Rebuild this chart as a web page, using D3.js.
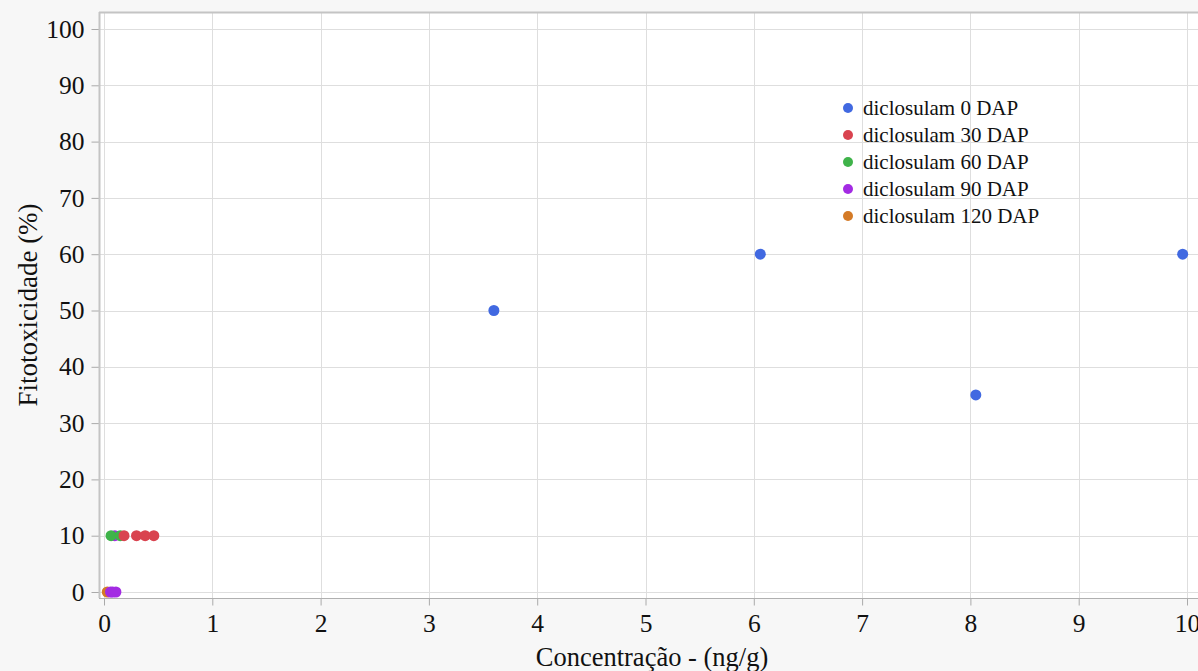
<!DOCTYPE html>
<html>
<head>
<meta charset="utf-8">
<script src="https://cdn.jsdelivr.net/npm/d3@7"></script>
<style>
  html, body { margin: 0; padding: 0; background: #f7f7f7; }
  svg { display: block; }
  text { font-family: "Liberation Serif", "Times New Roman", serif; fill: #111; }
</style>
</head>
<body>
<svg id="chart" width="1198" height="671"></svg>
<script>
// Series: concentration (ng/g) and phytotoxicity (%) per evaluation date
const seriesNames = ["diclosulam 0 DAP", "diclosulam 30 DAP", "diclosulam 60 DAP", "diclosulam 90 DAP", "diclosulam 120 DAP"];
const seriesColors = ["#4169e1", "#d9434f", "#3fb34a", "#a32be3", "#d47a26"];

const conc0 = [3.60, 6.06, 8.05, 9.96];
const fito0 = [50, 60, 35, 60];

const conc30 = [0.185, 0.30, 0.38, 0.46];
const fito30 = [10, 10, 10, 10];

const conc60 = [0.065, 0.15];
const fito60 = [10, 10];

const conc90 = [0.10, 0.06, 0.08, 0.11];
const fito90 = [10, 0, 0, 0];

const conc120 = [0.03];
const fito120 = [0];

const xTicks = [0, 1, 2, 3, 4, 5, 6, 7, 8, 9, 10];
const yTicks = [0, 10, 20, 30, 40, 50, 60, 70, 80, 90, 100];

const series = [
  { name: seriesNames[0], color: seriesColors[0], x: conc0, y: fito0 },
  { name: seriesNames[1], color: seriesColors[1], x: conc30, y: fito30 },
  { name: seriesNames[2], color: seriesColors[2], x: conc60, y: fito60 },
  { name: seriesNames[3], color: seriesColors[3], x: conc90, y: fito90 },
  { name: seriesNames[4], color: seriesColors[4], x: conc120, y: fito120 }
];

const svg = d3.select("#chart");
const plot = { left: 99, top: 12, right: 1198, bottom: 598 };

const x = d3.scaleLinear().domain([0, 10]).range([104, 1187]);
const y = d3.scaleLinear().domain([0, 100]).range([592, 29]);

// plot background
svg.append("rect")
  .attr("x", plot.left).attr("y", plot.top)
  .attr("width", plot.right - plot.left).attr("height", plot.bottom - plot.top)
  .attr("fill", "#ffffff");

// grid
const grid = svg.append("g").attr("stroke", "#dedede").attr("stroke-width", 1);
grid.selectAll("line.v").data(xTicks).join("line")
  .attr("x1", d => Math.round(x(d)) + 0.5).attr("x2", d => Math.round(x(d)) + 0.5)
  .attr("y1", plot.top).attr("y2", plot.bottom);
grid.selectAll("line.h").data(yTicks).join("line")
  .attr("y1", d => Math.round(y(d)) + 0.5).attr("y2", d => Math.round(y(d)) + 0.5)
  .attr("x1", plot.left).attr("x2", plot.right);

// frame line along the top
svg.append("line").attr("x1", plot.left).attr("x2", plot.right)
  .attr("y1", plot.top + 0.5).attr("y2", plot.top + 0.5)
  .attr("stroke", "#c4c4c4").attr("stroke-width", 2);

// axes
const xAxis = svg.append("g").attr("transform", `translate(0,${plot.bottom + 0.5})`)
  .call(d3.axisBottom(x).tickValues(xTicks).tickSize(7).tickSizeOuter(0).tickPadding(8));
const yAxis = svg.append("g").attr("transform", `translate(${plot.left + 0.5},0)`)
  .call(d3.axisLeft(y).tickValues(yTicks).tickSize(8).tickSizeOuter(0).tickPadding(7));

[xAxis, yAxis].forEach(a => {
  a.select(".domain").remove();
  a.selectAll(".tick line").attr("stroke", "#aaaaaa");
  a.selectAll(".tick text")
    .attr("font-family", "Liberation Serif, Times New Roman, serif")
    .attr("font-size", 25.5).attr("fill", "#111");
});
svg.append("line").attr("x1", plot.left).attr("x2", plot.right)
  .attr("y1", plot.bottom + 0.5).attr("y2", plot.bottom + 0.5)
  .attr("stroke", "#b0b0b0");
svg.append("line").attr("x1", plot.left + 0.5).attr("x2", plot.left + 0.5)
  .attr("y1", plot.top).attr("y2", plot.bottom)
  .attr("stroke", "#c4c4c4").attr("stroke-width", 2);

// axis titles
svg.append("text")
  .attr("x", 652).attr("y", 666)
  .attr("text-anchor", "middle").attr("font-size", 26.5)
  .text("Concentração - (ng/g)");
svg.append("text")
  .attr("transform", "translate(37,305) rotate(-90)")
  .attr("text-anchor", "middle").attr("font-size", 27)
  .text("Fitotoxicidade (%)");

// points (drawn in reverse so earlier series sit on top)
const pts = svg.append("g");
series.slice().reverse().forEach(s => {
  pts.selectAll(null).data(s.x.map((v, i) => [v, s.y[i]])).join("circle")
    .attr("cx", d => x(d[0])).attr("cy", d => y(d[1]))
    .attr("r", 5.5).attr("fill", s.color);
});

// legend
const legend = svg.append("g").attr("transform", "translate(848,108)");
series.forEach((s, i) => {
  const g = legend.append("g").attr("transform", `translate(0,${i * 27})`);
  g.append("circle").attr("r", 5).attr("fill", s.color);
  g.append("text").attr("x", 15).attr("dy", "0.35em")
    .attr("font-size", 21).text(s.name);
});
</script>
</body>
</html>
